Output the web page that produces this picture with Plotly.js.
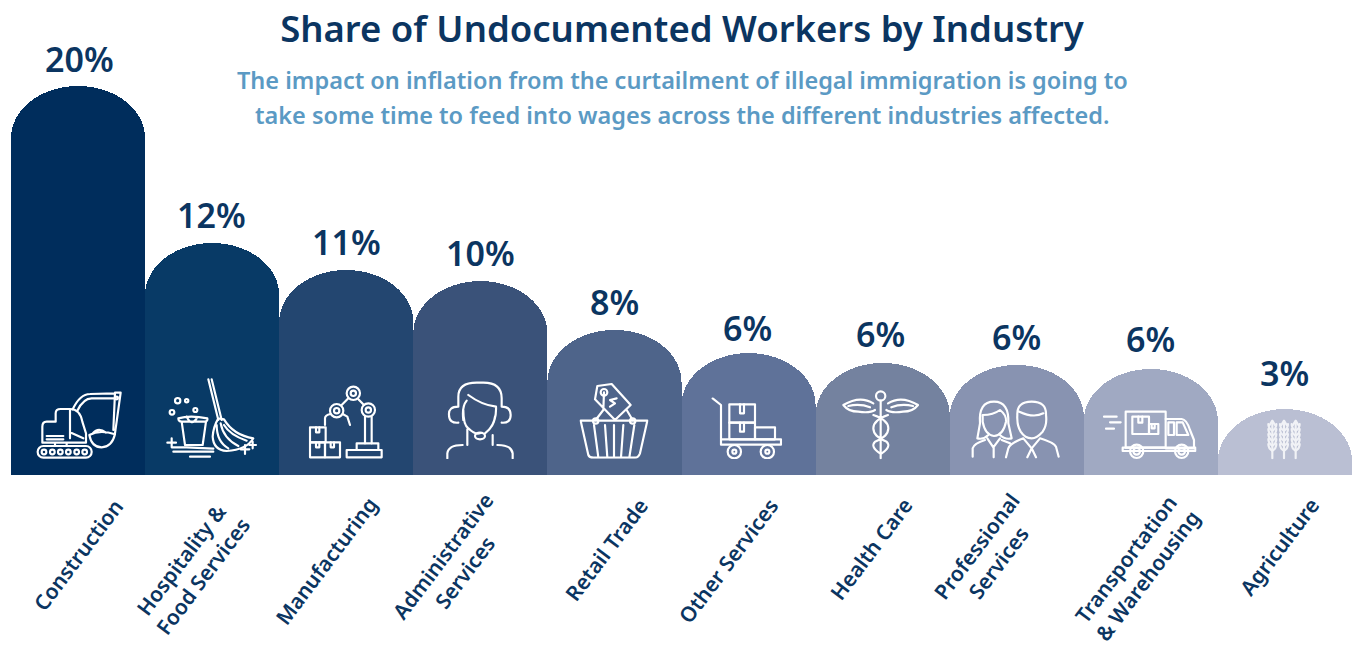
<!DOCTYPE html>
<html><head><meta charset="utf-8">
<script src="https://cdn.plot.ly/plotly-3.0.1.min.js"></script>
<style>html,body{margin:0;padding:0;background:#fff}#c{width:1353px;height:645px}</style>
</head><body><div id="c"></div>
<script>
const categories = ["Construction","Hospitality &<br>Food Services","Manufacturing","Administrative<br>Services","Retail Trade","Other Services","Health Care","Professional<br>Services","Transportation<br>& Warehousing","Agriculture"];
const shareValues = [20,11.93,10.54,9.97,7.46,6.27,5.76,5.66,5.45,3.39];
const shareLabels = ["20%","12%","11%","10%","8%","6%","6%","6%","6%","3%"];
const barColors = ["#002D5C","#083A66","#234670","#3A5279","#4E648A","#5F7299","#74829F","#8893B1","#A0A9C2","#BABFD3"];
const titleText = "Share of Undocumented Workers by Industry";
const subtitleLines = ["The impact on inflation from the curtailment of illegal immigration is going to","take some time to feed into wages across the different industries affected."];

const W=1353,H=645,L=11,R=1,B=170,PW=W-L-R,PH=H-B;
const labelCentres=[[78,555],[191,568],[326,561],[453,564],[606,550],[728,561],[871,549],[987,554],[1136,567],[1279,547]];
const valueLabelX=[79,212,346,480,614,747,880,1016,1150,1284];
const valueLabelY=[59,215,242,253,302,328,334,337,339,373];
const FONT='"Noto Sans", sans-serif', NAVY='#0B3561';

function circ(x,y,r){return `<circle cx="${x}" cy="${y}" r="${r}"/>`}
function rect(x,y,w,h,r){return `<rect x="${x}" y="${y}" width="${w}" height="${h}" rx="${r||0}"/>`}
function p(d){return `<path d="${d}"/>`}
let wheat='';
[1117,1152,1187].forEach(x=>{wheat+=p(`M${x},295V190`);
 [200,215,230,245,260].forEach(y=>{wheat+=p(`M${x-12},${y-8}Q${x-12},${y+6} ${x},${y+12}Q${x+12},${y+6} ${x+12},${y-8}`)});
 wheat+=p(`M${x-8},195L${x},182L${x+8},195`);});

const icons=[
 {ox:0,oy:370,vb:[105,60,265,210],g:rect(113,228,162,35,17)+[132,157,181,205,230,254].map(x=>circ(x,246,7)).join('')+
  p('M127,218V170Q127,155 140,155H167V130Q167,117 182,117H210Q240,117 247,155L258,190V218ZM210,117V205M210,187L250,205M140,198H190M140,208H190M165,218V228M200,218V228')+
  p('M218,118Q240,72 270,72L345,70M232,122Q250,85 275,85L345,85M345,68L362,68L345,190M345,68L340,180')+
  p('M268,195Q300,178 345,193Q335,232 305,232Q275,232 268,195ZM278,190Q295,170 318,188')+circ(350,84,4)},
 {ox:0,oy:370,vb:[498,22,275,246],g:p('M625,28L655,150M635,28L665,150M655,145Q640,170 638,200Q640,240 680,243Q740,240 760,205Q700,195 672,148ZM650,165Q650,215 685,235M662,160Q670,205 715,228M672,165Q690,195 740,212')+
  p('M545,155L555,225H608L618,155M535,145Q570,135 622,145Q625,155 610,155H545Q535,155 535,145ZM560,140Q575,170 590,145')+
  circ(533,92,8)+circ(560,92,5)+circ(516,127,7)+circ(586,120,6)+
  p('M515,205V232M502,218H528M735,225V252M722,238H748M758,215V235M748,225H768M515,232H560L640,236M520,245H640M570,260H630')},
 {ox:0,oy:370,vb:[925,45,225,222],g:circ(1060,70,20)+circ(1060,70,8)+circ(1010,122,20)+circ(1010,122,8)+circ(1105,120,20)+circ(1105,120,8)+
  p('M1045,85L1025,105M1075,88L1092,105M1095,140V220M1115,140V220M975,165V145Q975,135 992,132M1050,165L1042,140L1028,132')+
  rect(1070,220,65,20)+rect(1040,240,105,22)+rect(930,172,47,45)+rect(930,217,45,45)+rect(975,217,45,45)+p('M948,172V187H958V172M948,217V232H958V217M992,217V232H1002V217')},
 {ox:440,oy:370,vb:[18,32,205,235],g:p('M55,110V80Q55,38 110,38H130Q185,38 185,85V110M55,110Q25,110 27,135Q27,160 55,158M185,110Q212,110 212,135Q212,160 185,158')+
  p('M70,120Q70,165 85,175Q105,195 120,190M85,75Q125,105 168,110Q170,150 150,175M80,92Q65,110 70,150M165,140Q162,170 135,190M82,178V225M158,195V225M22,265V250Q25,225 68,225M218,265V250Q215,225 172,225')+`<ellipse cx="120" cy="198" rx="15" ry="10"/>`},
 {ox:440,oy:370,vb:[418,38,208,228],g:p('M422,152H622M422,152L445,255Q448,263 460,263H585Q595,263 600,250L622,152M462,165L475,262M495,165L502,262M522,165V262M550,165L543,262M583,165L568,262')+
  circ(467,153,8)+circ(578,153,8)+p('M472,48L515,42L572,105L525,150L465,88ZM492,67L490,120L467,150M560,120L578,150M530,85L510,90L525,100L510,110')+circ(492,67,10)},
 {ox:440,oy:370,vb:[812,82,215,185],g:p('M818,85L843,105V208')+rect(868,103,77,55)+rect(868,158,77,50)+rect(945,172,60,36)+p('M900,103V130H912V103M900,158V185H912V158')+rect(843,208,180,16)+circ(883,245,20)+circ(883,245,6)+circ(982,245,20)+circ(982,245,6)},
 {ox:440,oy:370,vb:[1205,60,234,208],g:circ(1322,78,14)+p('M1322,92V265M1300,100Q1260,75 1210,105Q1225,125 1255,125Q1290,130 1305,120M1344,100Q1384,75 1434,105Q1419,125 1389,125Q1354,130 1339,120M1225,108Q1260,100 1290,112M1419,108Q1384,100 1354,112M1300,135Q1345,150 1345,175Q1345,200 1305,215Q1290,230 1320,250M1344,135Q1300,150 1300,175Q1300,200 1340,215Q1355,230 1325,250')},
 {ox:900,oy:360,vb:[212,120,270,176],g:p('M240,190Q235,125 282,125Q328,125 325,190L335,235Q315,240 300,225M240,190L232,235Q250,240 265,225M248,165Q280,165 300,150Q320,165 318,185Q310,225 282,228Q255,225 248,185ZM262,235L280,262L300,235M218,290V265Q222,250 255,240M281,262V292M305,240L330,250')+
  p('M352,165Q350,125 395,125Q440,125 438,165Q442,195 428,215Q410,235 395,235Q375,235 362,215Q350,195 352,165ZM358,155Q400,175 430,160M318,292L325,265Q330,250 370,235M476,290L468,260Q462,248 420,235M370,235L395,265L420,235M395,265L382,292M395,265L408,292')},
 {ox:900,oy:360,vb:[608,150,282,148],g:p('M612,170H650M630,187H662M618,206H642')+rect(677,155,120,108)+rect(697,170,50,52)+rect(747,192,28,30)+p('M715,170V188H727V170M755,192V205H764V192M797,177H845Q860,178 870,210L882,240V265H797M805,187H822V225H805ZM830,187H848L865,225H830Z')+rect(668,263,218,10)+circ(710,274,20)+circ(710,274,10)+circ(845,274,20)+circ(845,274,10)},
 {ox:900,oy:360,vb:[1100,178,105,120],g:wheat,op:0.8}
];
const images=icons.map(ic=>{
  const [vx,vy,vw,vh]=ic.vb;
  const svg=`<svg xmlns="http://www.w3.org/2000/svg" viewBox="${vx} ${vy} ${vw} ${vh}" width="${vw}" height="${vh}"><g fill="none" stroke="#fff" stroke-width="6.5" stroke-linecap="round" stroke-linejoin="round" opacity="${ic.op||1}">${ic.g}</g></svg>`;
  const px=ic.ox+vx/3, py=ic.oy+vy/3;
  return {source:'data:image/svg+xml;charset=utf-8,'+encodeURIComponent(svg),xref:'paper',yref:'paper',
    x:(px-L)/PW,y:1-py/PH,sizex:vw/3/PW,sizey:vh/3/PH,xanchor:'left',yanchor:'top',sizing:'stretch',layer:'above'};
});

const annotations=[];
categories.forEach((c,i)=>{
  annotations.push({text:c,xref:'paper',yref:'paper',x:(labelCentres[i][0]-L)/PW,y:0,yshift:-(labelCentres[i][1]-PH),
    xanchor:'center',yanchor:'middle',textangle:-53,showarrow:false,align:'center',
    font:{family:FONT,size:21,color:NAVY,weight:600}});
  annotations.push({text:shareLabels[i],xref:'paper',yref:'paper',x:(valueLabelX[i]-L)/PW,y:1-valueLabelY[i]/PH,
    xanchor:'center',yanchor:'middle',showarrow:false,font:{family:FONT,size:34,color:NAVY,weight:600}});
});
subtitleLines.forEach((t,i)=>annotations.push({text:t,xref:'paper',yref:'paper',x:(682-L)/PW,y:1-(80+i*35)/PH,
  xanchor:'center',yanchor:'middle',showarrow:false,font:{family:FONT,size:23.5,color:'#5B9AC4',weight:600}}));

const trace={type:'bar',x:categories,y:shareValues,width:1,marker:{color:barColors,line:{width:0},cornerradius:60},hoverinfo:'none'};
const layout={width:W,height:H,margin:{l:L,r:R,t:0,b:B,pad:0},paper_bgcolor:'#fff',plot_bgcolor:'#fff',showlegend:false,
  title:{text:titleText,x:682/W,xanchor:'center',y:1-29/H,yanchor:'middle',font:{family:FONT,size:36.5,color:NAVY,weight:600}},
  xaxis:{type:'category',categoryorder:'array',categoryarray:categories,range:[-0.5,9.5],showticklabels:false,showgrid:false,zeroline:false,showline:false,ticks:''},
  yaxis:{range:[0,PH/19.45],showticklabels:false,showgrid:false,zeroline:false,showline:false,ticks:''},
  bargap:0,images,annotations};
Plotly.newPlot('c',[trace],layout,{displayModeBar:false,staticPlot:true}).then(gd=>{
  // Domed tops: flatten the round corners into the reference's elliptical arch, from each bar's own drawn box
  gd.querySelectorAll('.barlayer .point path').forEach(el=>{
    const b=el.getBBox(),rx=b.width/2,ry=Math.min(52,b.height),x0=b.x,x1=b.x+b.width,y1=b.y,y0=b.y+b.height;
    el.setAttribute('d',`M${x0},${y0}V${y1+ry}A${rx},${ry} 0 0 1 ${x0+rx},${y1}A${rx},${ry} 0 0 1 ${x1},${y1+ry}V${y0}Z`);
  });
});
</script></body></html>
